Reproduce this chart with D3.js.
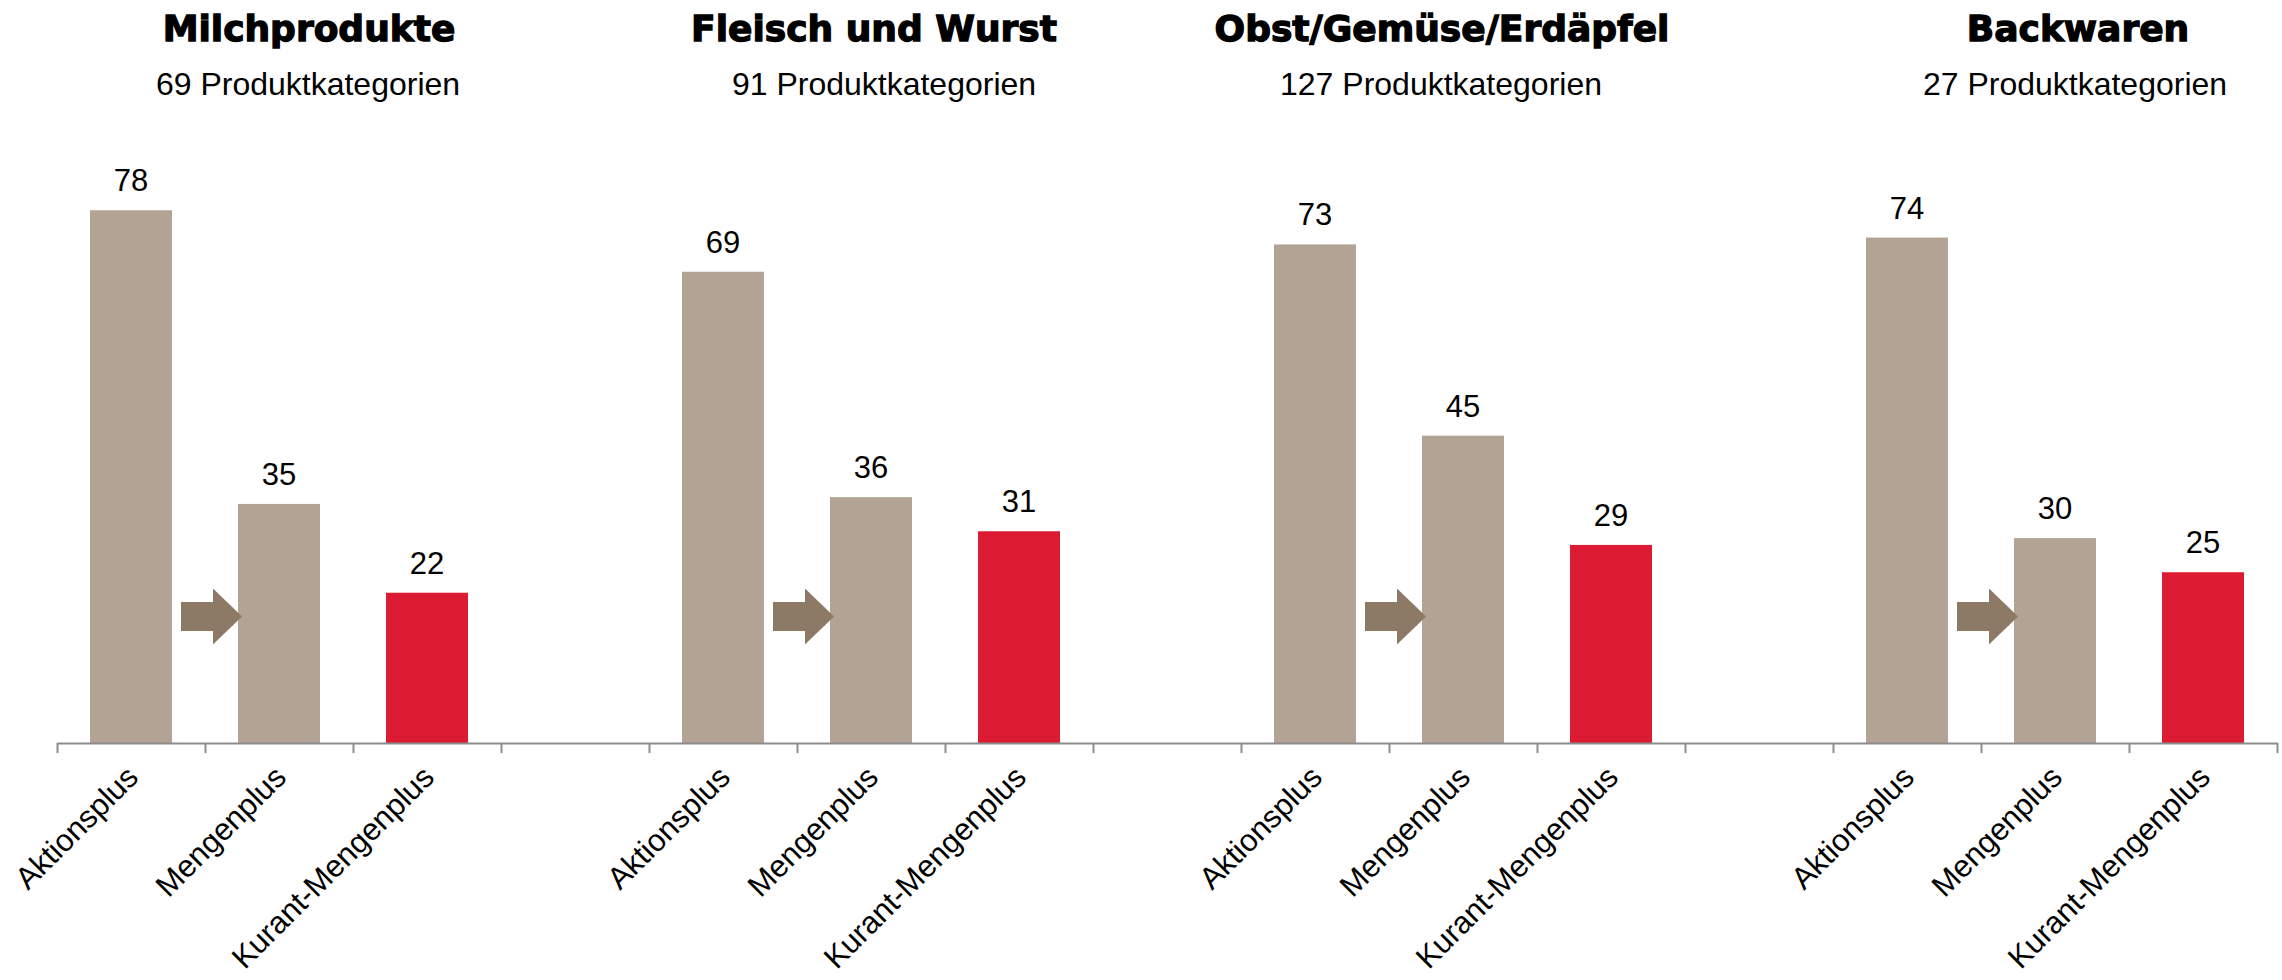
<!DOCTYPE html>
<html>
<head>
<meta charset="utf-8">
<script src="https://cdn.jsdelivr.net/npm/d3@7"></script>
<style>
  html, body { margin: 0; padding: 0; background: #fff; }
  text { font-family: "Liberation Sans", Arial, sans-serif; fill: #000; }
  .title { font-family: "DejaVu Sans", sans-serif; font-weight: bold; stroke: #000; stroke-width: 1.3px; }
  .axis path, .axis line { stroke: #8c8c8c; stroke-width: 2px; }
</style>
</head>
<body>
<svg id="chart" width="2282" height="980"></svg>
<script>
var width = 2282;
var height = 980;

var groups = ['Milchprodukte', 'Fleisch und Wurst', 'Obst/Gemüse/Erdäpfel', 'Backwaren'];
var groupCounts = [69, 91, 127, 27];
var measures = ['Aktionsplus', 'Mengenplus', 'Kurant-Mengenplus'];
var aktionsplus = [78, 69, 73, 74];
var mengenplus = [35, 36, 45, 30];
var kurantMengenplus = [22, 31, 29, 25];

// layout only: how far each heading sits from the centre of its group
var titleShift = [30, 3, -21, 23];
var subtitleShift = [29, 13, -22, 20];

var colors = { bar: '#b3a394', highlight: '#dc1a32', arrow: '#8d7a66' };

var series = [aktionsplus, mengenplus, kurantMengenplus];

// one slot per bar, with an empty slot between groups
var slots = [];
groups.forEach(function(g, gi) {
    measures.forEach(function(m) { slots.push(gi + '|' + m); });
    if (gi < groups.length - 1) slots.push('gap' + gi);
});

var bars = [];
groups.forEach(function(g, gi) {
    measures.forEach(function(m, mi) {
        bars.push({ group: gi, measure: m, index: mi, slot: gi + '|' + m, value: series[mi][gi] });
    });
});

var axisY = 743;

var x = d3.scaleBand()
    .domain(slots)
    .range([57, 2277])
    .paddingInner(0.446)
    .paddingOuter(0.223);

var y = d3.scaleLinear()
    .domain([0, 100])
    .range([axisY, 60]);

var tickScale = d3.scaleLinear()
    .domain([0, slots.length])
    .range(x.range());

var svg = d3.select('#chart');

// bars
svg.selectAll('rect.bar')
    .data(bars)
    .join('rect')
    .classed('bar', true)
    .attr('x', function(d) { return x(d.slot); })
    .attr('y', function(d) { return y(d.value); })
    .attr('width', x.bandwidth())
    .attr('height', function(d) { return y(0) - y(d.value); })
    .attr('fill', function(d) { return d.index === 2 ? colors.highlight : colors.bar; });

// value labels
svg.selectAll('text.value')
    .data(bars)
    .join('text')
    .classed('value', true)
    .attr('x', function(d) { return x(d.slot) + x.bandwidth() / 2; })
    .attr('y', function(d) { return y(d.value) - 19; })
    .attr('text-anchor', 'middle')
    .style('font-size', '31px')
    .text(function(d) { return d.value; });

// arrows pointing at the Mengenplus bar
var arrowY = 616.5;
svg.selectAll('path.arrow')
    .data(bars.filter(function(d) { return d.index === 1; }))
    .join('path')
    .classed('arrow', true)
    .attr('fill', colors.arrow)
    .attr('transform', function(d) { return 'translate(' + x(d.slot) + ',' + arrowY + ')'; })
    .attr('d', 'M-57,-14.5 L-25,-14.5 L-25,-28 L4,0 L-25,28 L-25,14.5 L-57,14.5 Z');

// axis with ticks between the slots
svg.append('g')
    .classed('axis', true)
    .attr('transform', 'translate(0,' + axisY + ')')
    .call(d3.axisBottom(tickScale)
        .ticks(slots.length)
        .tickSize(10)
        .tickSizeOuter(0)
        .tickFormat(''));

// rotated category labels
svg.selectAll('text.cat')
    .data(bars)
    .join('text')
    .classed('cat', true)
    .attr('text-anchor', 'end')
    .attr('transform', function(d) {
        var cx = x(d.slot) + x.bandwidth() / 2 + 9;
        return 'translate(' + cx + ',' + (axisY + 36) + ') rotate(-45)';
    })
    .style('font-size', '31px')
    .text(function(d) { return d.measure; });

// group headings
function groupCenter(gi) {
    var first = x(gi + '|' + measures[0]);
    var last = x(gi + '|' + measures[measures.length - 1]) + x.bandwidth();
    return (first + last) / 2;
}

svg.selectAll('text.title')
    .data(groups)
    .join('text')
    .classed('title', true)
    .attr('x', function(d, i) { return groupCenter(i) + titleShift[i]; })
    .attr('y', 41)
    .attr('text-anchor', 'middle')
    .style('font-size', '36px')
    .text(function(d) { return d; });

svg.selectAll('text.subtitle')
    .data(groupCounts)
    .join('text')
    .classed('subtitle', true)
    .attr('x', function(d, i) { return groupCenter(i) + subtitleShift[i]; })
    .attr('y', 95)
    .attr('text-anchor', 'middle')
    .style('font-size', '32px')
    .text(function(d) { return d + ' Produktkategorien'; });
</script>
</body>
</html>
